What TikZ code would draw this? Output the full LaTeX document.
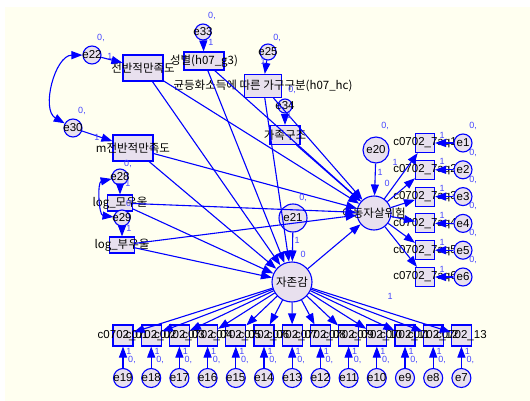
\documentclass[tikz,border=0pt]{standalone}
\usepackage{fontspec}
\setmainfont{Liberation Sans}
\newfontfamily\kr{Noto Sans CJK KR}
\usetikzlibrary{arrows.meta}
\definecolor{amosblue}{RGB}{0,0,255}
\definecolor{amosfill}{RGB}{232,224,238}
\definecolor{estblue}{RGB}{70,70,255}
\definecolor{paper}{RGB}{255,255,240}
\tikzset{
  obsbox/.style={rectangle,draw=amosblue,fill=amosfill,line width=1.1pt,inner sep=0pt,label={[vname]center:#1}},
  errc/.style={circle,draw=amosblue,fill=amosfill,line width=1.1pt,inner sep=0pt,label={[vname]center:#1}},
  latc/.style={circle,draw=amosblue,fill=amosfill,line width=1.1pt,inner sep=0pt,label={[vname]center:#1}},
  vname/.style={inner sep=0pt,font=\fontsize{11.5}{12}\selectfont},
  regr/.style={draw=amosblue,line width=1.1pt,-{Triangle[length=11pt,width=8pt]}},
  covar/.style={draw=amosblue,line width=1.1pt,{Triangle[length=11pt,width=8pt]}-{Triangle[length=11pt,width=8pt]}},
  est/.style={text=estblue,inner sep=0pt,font=\fontsize{9}{9}\selectfont},
}
\begin{document}
\begin{tikzpicture}[x=1pt,y=-1pt]
\useasboundingbox (0,0) rectangle (530,401);
\fill[white] (0,0) rectangle (530,401);
\fill[paper] (5,7) rectangle (530,401);

% observed exogenous variables
\node[obsbox={\kr 전반적만족도},minimum width=40pt,minimum height=26pt] (jman) at (143,68) {};
\node[obsbox={\kr 성별(h07\_g3)},minimum width=40pt,minimum height=18pt] (sex) at (204,61) {};
\node[obsbox={\kr 균등화소득에 따른 가구구분(h07\_hc)},minimum width=37pt,minimum height=23pt] (inc) at (263,86) {};
\node[obsbox={\kr 가족구조},minimum width=30pt,minimum height=19pt] (fam) at (285,135) {};
\node[obsbox={\kr m전반적만족도},minimum width=40pt,minimum height=26pt] (mman) at (133,148) {};
\node[obsbox={\kr log\_모우울},minimum width=25pt,minimum height=16pt] (mdep) at (120,203) {};
\node[obsbox={\kr log\_부우울},minimum width=25pt,minimum height=16pt] (fdep) at (122,245) {};

% right indicators
\foreach \i in {1,...,6}{
  \pgfmathsetmacro\ry{143+26.8*(\i-1)}
  \node[obsbox={c0702\_7aq\i},minimum size=19pt] (r\i) at (425,\ry) {};
}
% bottom indicators
\foreach \i in {1,...,13}{
  \pgfmathsetmacro\bx{123+28.2*(\i-1)}
  \node[obsbox=,minimum width=20pt,minimum height=21pt] (b\i) at (\bx,335.5) {};
}
\foreach \i in {1,...,13}{
  \node[vname] (bt\i) at (b\i) {c0702\_\ifnum\i<10 0\fi\i};
}

% latent variables
\node[latc={\kr 아동자살위험},minimum size=34pt] (suic) at (374,213) {};
\node[latc={\kr 자존감},minimum size=40pt] (self) at (292,282) {};

% errors
\node[errc=e22,minimum size=18pt] (e22) at (92,55) {};
\node[errc=e30,minimum size=18pt] (e30) at (73,128) {};
\node[errc=e33,minimum size=16pt] (e33) at (203,32) {};
\node[errc=e25,minimum size=16pt] (e25) at (268,52) {};
\node[errc=e34,minimum size=14pt] (e34) at (285,106) {};
\node[errc=e28,minimum size=16pt] (e28) at (120,177) {};
\node[errc=e29,minimum size=16pt] (e29) at (122,218) {};
\node[errc=e20,minimum size=26pt] (e20) at (376,150) {};
\node[errc=e21,minimum size=28pt] (e21) at (293,218) {};
\foreach \i in {1,...,6}{
  \node[errc=e\i,minimum size=18pt] (e\i) at (463,{143+26.8*(\i-1)}) {};
}
\foreach \i in {1,...,13}{
  \pgfmathtruncatemacro\en{20-\i}
  \node[errc=e\en,minimum size=19pt] (e\en) at ([yshift=-42.5pt]b\i) {};
}

% error paths
\draw[regr] (e22) -- (jman);
\draw[regr] (e30) -- (mman);
\draw[regr] (e33) -- (sex);
\draw[regr] (e25) -- (inc);
\draw[regr] (e34) -- (fam);
\draw[regr] (e28) -- (mdep);
\draw[regr] (e29) -- (fdep);
\draw[regr] (e20) -- (suic);
\draw[regr] (e21) -- (self);
\draw[covar] (e22) to[bend right=75] (e30);
\draw[covar] (e28) to[bend right=80] (e29);

% structural paths
\foreach \v in {jman,sex,inc,fam,mman,mdep,fdep}{
  \draw[regr] (\v) -- (suic);
}
\foreach \v in {jman,sex,inc,mman,mdep,fdep}{
  \draw[regr] (\v) -- (self);
}
\draw[regr] (self) -- (suic);

% measurement paths
\foreach \i in {1,...,6}{
  \draw[regr] (suic) -- (r\i);
  \draw[regr] (e\i) -- (r\i);
  \node[est] (w\i) at ([shift={(17,-8)}]r\i) {1};
  \node[est] (m\i) at ([shift={(48,-17)}]r\i) {0,};
}
\foreach \i in {1,...,13}{
  \pgfmathtruncatemacro\en{20-\i}
  \draw[regr] (self) -- (b\i);
  \draw[regr] (e\en) -- (b\i);
  \node[est] (bw\i) at ([shift={(6,16)}]b\i) {1};
  \node[est] (bm\i) at ([shift={(9,24)}]b\i) {0,};
}

% estimates
\node[est] (m22) at (101,38) {0,};
\node[est] (m30) at (82,111) {0,};
\node[est] (m33) at (212,16) {0,};
\node[est] (m25) at (277,38) {0,};
\node[est] (m34) at (292,90) {0,};
\node[est] (m28) at (128,164) {0,};
\node[est] (m29) at (130,204) {0,};
\node[est] (m21) at (303,198) {0,};
\node[est] (m20) at (385,126) {0,};
\node[est] (w22) at (110,56) {1};
\node[est] (w30) at (97,137) {1};
\node[est] (w33) at (211,42) {1};
\node[est] (w25) at (263,61) {1};
\node[est] (w34) at (289,115) {1};
\node[est] (w28) at (128,183) {1};
\node[est] (w29) at (129,228) {1};
\node[est] (w21) at (297,240) {1};
\node[est] (w20) at (380,172) {1};
\node[est] (wsu) at (395,162) {1};
\node[est] (isu) at (387,183) {0};
\node[est] (ise) at (303,254) {0};
\node[est] (wse) at (390,296) {1};
\end{tikzpicture}
\end{document}
